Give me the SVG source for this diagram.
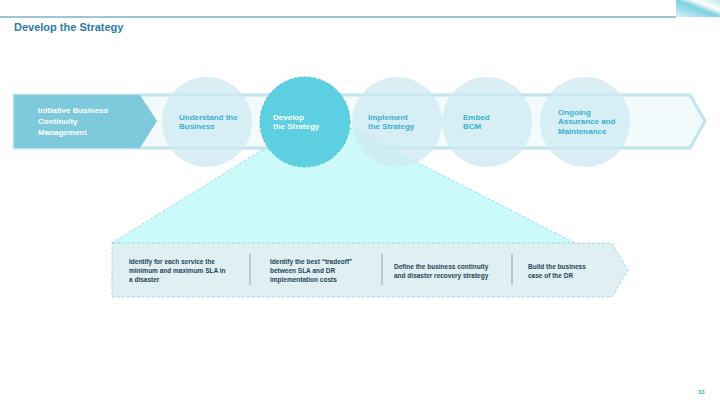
<svg xmlns="http://www.w3.org/2000/svg" width="720" height="405" viewBox="0 0 720 405">
<defs>
<linearGradient id="cg" x1="0" y1="1" x2="1" y2="0"><stop offset="0" stop-color="#d8f1f6"/><stop offset="0.5" stop-color="#7fd0e0"/><stop offset="0.7" stop-color="#ffffff"/><stop offset="1" stop-color="#bfe6ef"/></linearGradient>
</defs>
<style>
text{font-family:"Liberation Sans",Arial,sans-serif;font-weight:bold}
.st{font-size:8px;fill:#3aaed0}
.bt{font-size:6.5px;fill:#24465a}
.circ{fill:#cdeaf1;opacity:0.75}
.div{stroke:#8fb6c4;stroke-width:1.2}
</style>
<rect width="720" height="405" fill="#fff"/>
<line x1="0" y1="17" x2="676" y2="17" stroke="#3b8fb0" stroke-width="1"/>
<rect x="676" y="0" width="44" height="17" fill="url(#cg)"/>
<text x="14" y="31" font-size="11" fill="#2e7aa6">Develop the Strategy</text>
<g id="band">
<polygon points="14,95 690,95 705,121 690,148 14,148" fill="#f2fafc" stroke="#bfe4ee" stroke-width="3"/>
<polygon points="14,95 140,95 157,121 140,148 14,148" fill="#7ec9dc"/>
<text x="38" y="113" font-size="8" fill="#fff">Initiative Business</text>
<text x="38" y="124" font-size="8" fill="#fff">Continuity</text>
<text x="38" y="135" font-size="8" fill="#fff">Management</text>
</g>
<g id="funnel">
<polygon points="262,150 350,128 612,262 112,243" fill="#ccfafa" stroke="#7fd8e0" stroke-width="0.8" stroke-dasharray="3,2"/>
</g>
<g id="n1"><ellipse class="circ" cx="207" cy="122" rx="45" ry="45"/><text class="st" x="179" y="120">Understand the</text><text class="st" x="179" y="129">Business</text></g>
<g id="n3"><ellipse class="circ" cx="397" cy="122" rx="45" ry="45"/><text class="st" x="368" y="120">Implement</text><text class="st" x="368" y="129">the Strategy</text></g>
<g id="n4"><ellipse class="circ" cx="487" cy="122" rx="45" ry="45"/><text class="st" x="463" y="120">Embed</text><text class="st" x="463" y="129">BCM</text></g>
<g id="n5"><ellipse class="circ" cx="585" cy="122" rx="45" ry="45"/><text class="st" x="558" y="115">Ongoing</text><text class="st" x="558" y="124">Assurance and</text><text class="st" x="558" y="134">Maintenance</text></g>
<g id="n2"><ellipse cx="305" cy="122" rx="45" ry="45" fill="#5ccfe0" stroke="#3fb8cc" stroke-width="0.8" stroke-dasharray="3,2"/><text x="273" y="120" font-size="8" fill="#fff">Develop</text><text x="273" y="129" font-size="8" fill="#fff">the Strategy</text></g>
<g id="box">
<polygon points="112,243 612,243 628,270 612,297 112,297" fill="#e0eff2" stroke="#7fd8e0" stroke-width="0.8" stroke-dasharray="3,2"/>
<line class="div" x1="250" y1="254" x2="250" y2="285"/>
<line class="div" x1="382" y1="254" x2="382" y2="285"/>
<line class="div" x1="512" y1="254" x2="512" y2="285"/>
<text class="bt" x="129" y="264">Identify for each service the</text>
<text class="bt" x="129" y="273">minimum and maximum SLA in</text>
<text class="bt" x="129" y="282">a disaster</text>
<text class="bt" x="270" y="264">Identify the best “tradeoff”</text>
<text class="bt" x="270" y="273">between SLA and DR</text>
<text class="bt" x="270" y="282">implementation costs</text>
<text class="bt" x="394" y="269">Define the business continuity</text>
<text class="bt" x="394" y="278">and disaster recovery strategy</text>
<text class="bt" x="528" y="269">Build the business</text>
<text class="bt" x="528" y="278">case of the DR</text>
</g>
<text x="698" y="394" font-size="6" fill="#3aaed0" font-weight="normal">33</text>
</svg>
